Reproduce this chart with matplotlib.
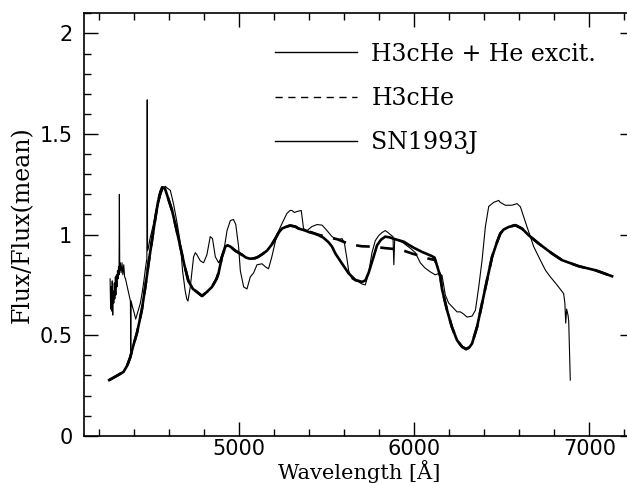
import numpy as np
import matplotlib
matplotlib.use("Agg")
import matplotlib.pyplot as plt
from matplotlib.ticker import MultipleLocator, FuncFormatter

# ---- data ----
# Model: H3cHe + He excitation (thick solid)
wl_he = [4257, 4300, 4339, 4360, 4377, 4395, 4415, 4430, 4444, 4463, 4473, 4482,
         4501, 4520, 4535, 4549, 4560, 4575, 4590, 4616, 4640, 4663, 4686, 4709,
         4735, 4758, 4787, 4815, 4844, 4870, 4882, 4901, 4920, 4933, 4950, 4977,
         5015, 5040, 5063, 5090, 5109, 5135, 5158, 5185, 5206, 5225, 5244, 5270,
         5291, 5320, 5339, 5377, 5400, 5430, 5453, 5480, 5510, 5530, 5549, 5587,
         5625, 5663, 5701, 5720, 5739, 5767, 5787, 5810, 5834, 5860, 5891, 5939,
         5967, 5996, 6044, 6101, 6115, 6130, 6149, 6158, 6187, 6215, 6244, 6273,
         6296, 6315, 6330, 6358, 6387, 6415, 6444, 6473, 6491, 6510, 6539, 6577,
         6615, 6653, 6710, 6787, 6844, 6939, 7034, 7130]
fl_he = [0.277, 0.298, 0.318, 0.350, 0.390, 0.450, 0.510, 0.570, 0.630, 0.740, 0.800, 0.860,
         0.970, 1.080, 1.160, 1.210, 1.235, 1.230, 1.190, 1.120, 1.030, 0.940, 0.850, 0.770,
         0.730, 0.715, 0.695, 0.715, 0.740, 0.780, 0.810, 0.890, 0.940, 0.947, 0.940, 0.920,
         0.900, 0.885, 0.880, 0.883, 0.890, 0.905, 0.920, 0.950, 0.980, 1.010, 1.030, 1.040,
         1.045, 1.040, 1.030, 1.020, 1.012, 1.005, 0.997, 0.985, 0.962, 0.940, 0.906, 0.856,
         0.807, 0.775, 0.765, 0.772, 0.810, 0.889, 0.947, 0.975, 0.990, 0.986, 0.977, 0.965,
         0.950, 0.935, 0.914, 0.893, 0.885, 0.845, 0.790, 0.730, 0.624, 0.540, 0.475, 0.442,
         0.431, 0.440, 0.459, 0.540, 0.658, 0.773, 0.889, 0.964, 1.005, 1.025, 1.038, 1.047,
         1.030, 0.997, 0.956, 0.906, 0.873, 0.843, 0.823, 0.793]

# Model: H3cHe (thick dashed) -- where it departs from the model above
wl_h3 = [5400, 5450, 5500, 5560, 5630, 5700, 5770, 5830, 5890, 5940, 5990, 6030, 6075, 6110]
fl_h3 = [1.015, 1.000, 0.988, 0.977, 0.952, 0.942, 0.940, 0.933, 0.928, 0.920, 0.905, 0.895, 0.882, 0.875]

# Observed spectrum SN1993J (thin solid)
wl_sn = [4262, 4265, 4268, 4271, 4274, 4277, 4280, 4283, 4286, 4289, 4292, 4295, 4298,
         4301, 4304, 4307, 4310, 4313, 4315, 4317, 4320, 4325, 4330, 4335, 4340, 4345,
         4350, 4360, 4370, 4378, 4380, 4382, 4390, 4400, 4408, 4415, 4425, 4435, 4445,
         4455, 4465, 4472, 4474, 4476, 4482, 4490, 4501, 4520, 4535, 4549, 4565, 4577,
         4590, 4606, 4625, 4644, 4663, 4676, 4691, 4700, 4707, 4720, 4739, 4749, 4758,
         4777, 4796, 4815, 4834, 4847, 4863, 4882, 4910, 4930, 4949, 4967, 4980, 4996,
         5006, 5025, 5044, 5063, 5082, 5101, 5130, 5149, 5167, 5186, 5215, 5244, 5272,
         5290, 5301, 5315, 5330, 5354, 5367, 5387, 5415, 5444, 5473, 5501, 5530, 5558,
         5587, 5600, 5615, 5625, 5644, 5663, 5682, 5700, 5720, 5739, 5758, 5777, 5796,
         5815, 5834, 5850, 5863, 5878, 5883, 5888, 5910, 5935, 5958, 5980, 6006, 6034,
         6060, 6091, 6120, 6139, 6158, 6177, 6196, 6225, 6244, 6263, 6282, 6301, 6330,
         6349, 6368, 6387, 6406, 6425, 6453, 6482, 6491, 6520, 6558, 6587, 6606, 6625,
         6644, 6663, 6682, 6701, 6720, 6749, 6777, 6815, 6853, 6860, 6865, 6870, 6878,
         6882, 6891]
fl_sn = [0.78, 0.63, 0.74, 0.62, 0.77, 0.60, 0.72, 0.66, 0.76, 0.68, 0.79, 0.70, 0.80,
         0.74, 0.82, 0.78, 0.84, 0.80, 1.20, 0.82, 0.86, 0.81, 0.86, 0.80, 0.85, 0.79,
         0.78, 0.74, 0.70, 0.67, 0.42, 0.67, 0.64, 0.61, 0.58, 0.60, 0.63, 0.66, 0.71,
         0.77, 0.84, 0.88, 1.67, 0.92, 0.94, 0.98, 1.02, 1.09, 1.14, 1.19, 1.23, 1.24,
         1.23, 1.22, 1.15, 1.06, 0.96, 0.82, 0.72, 0.68, 0.67, 0.74, 0.89, 0.91, 0.90,
         0.87, 0.86, 0.90, 0.99, 0.98, 0.89, 0.86, 0.91, 1.02, 1.07, 1.075, 1.05, 0.94,
         0.82, 0.74, 0.73, 0.79, 0.81, 0.85, 0.855, 0.84, 0.83, 0.89, 1.00, 1.055, 1.105,
         1.12, 1.12, 1.11, 1.115, 1.12, 1.03, 1.02, 1.04, 1.05, 1.047, 1.02, 0.99, 0.975,
         0.98, 0.96, 0.88, 0.82, 0.78, 0.77, 0.765, 0.755, 0.75, 0.81, 0.91, 0.97, 0.995,
         1.01, 1.02, 1.01, 1.00, 0.99, 0.85, 0.98, 0.97, 0.96, 0.945, 0.93, 0.91, 0.86,
         0.835, 0.815, 0.80, 0.807, 0.798, 0.70, 0.66, 0.633, 0.616, 0.616, 0.605, 0.59, 0.595,
         0.624, 0.74, 0.873, 1.04, 1.14, 1.16, 1.17, 1.16, 1.146, 1.146, 1.154, 1.138, 1.088,
         1.038, 0.99, 0.94, 0.906, 0.873, 0.823, 0.79, 0.75, 0.707, 0.66, 0.56, 0.63, 0.60,
         0.57, 0.277]

labels = ["H3cHe + He excit.", "H3cHe", "SN1993J"]

# ---- build the dashed model: shares the He-excit model outside its own segment ----
wl_he_a = np.array(wl_he, dtype=float)
fl_he_a = np.array(fl_he, dtype=float)
lo = wl_he_a < min(wl_h3)
hi = wl_he_a > max(wl_h3)
wl_dash = np.concatenate([wl_he_a[lo], wl_h3, wl_he_a[hi]])
fl_dash = np.concatenate([fl_he_a[lo], fl_h3, fl_he_a[hi]])

# ---- figure ----
W, H = 627, 484
fig = plt.figure(figsize=(W / 100, H / 100), dpi=100)
ax_bottom_px = H - 435.8
ax_height_px = 435.8 - 13.3
ax = fig.add_axes([83.5 / W, ax_bottom_px / H, (634 - 83.5) / W, ax_height_px / H])

serif = "DejaVu Serif"
l1, = ax.plot(wl_he_a, fl_he_a, color="black", lw=1.9, solid_joinstyle="round")
l2, = ax.plot(wl_dash, fl_dash, color="black", lw=1.9, dashes=(5.2, 4.0))
l3, = ax.plot(wl_sn, fl_sn, color="black", lw=0.8)

ax.set_xlim(4110, 7255)
ax.set_ylim(0, 2.1)

ax.xaxis.set_major_locator(MultipleLocator(1000))
ax.xaxis.set_minor_locator(MultipleLocator(200))
ax.yaxis.set_major_locator(MultipleLocator(0.5))
ax.yaxis.set_minor_locator(MultipleLocator(0.1))
ax.tick_params(which="both", direction="in", top=True, right=True, width=1.0)
ax.tick_params(which="major", length=10)
ax.tick_params(which="minor", length=5)
ax.tick_params(axis="x", which="major", pad=2.5, labelsize=15)
ax.tick_params(axis="y", which="major", pad=8, labelsize=15)
ax.yaxis.set_major_formatter(FuncFormatter(lambda v, p: f"{v:g}"))
for sp in ax.spines.values():
    sp.set_linewidth(1.2)

ax.set_xlabel("Wavelength [Å]", fontsize=15, family=serif)
ax.set_ylabel("Flux/Flux(mean)", fontsize=17, family=serif, labelpad=4)

leg = ax.legend([l1, l2, l3], labels, loc="upper left",
                bbox_to_anchor=(0.330, 0.953), frameon=False,
                prop={"family": serif, "size": 17},
                handlelength=3.5, handletextpad=0.6, labelspacing=0.9,
                borderaxespad=0.0)
for h in leg.legend_handles:
    h.set_linewidth(1.0)

# place the x label so that it just fits inside the bottom edge
fig.canvas.draw()
renderer = fig.canvas.get_renderer()
lab_h = ax.xaxis.label.get_window_extent(renderer).height
top_disp = 1.0 + lab_h
ax.xaxis.set_label_coords(0.5, (top_disp - ax_bottom_px) / ax_height_px)

fig.savefig("out.png", dpi=100)
